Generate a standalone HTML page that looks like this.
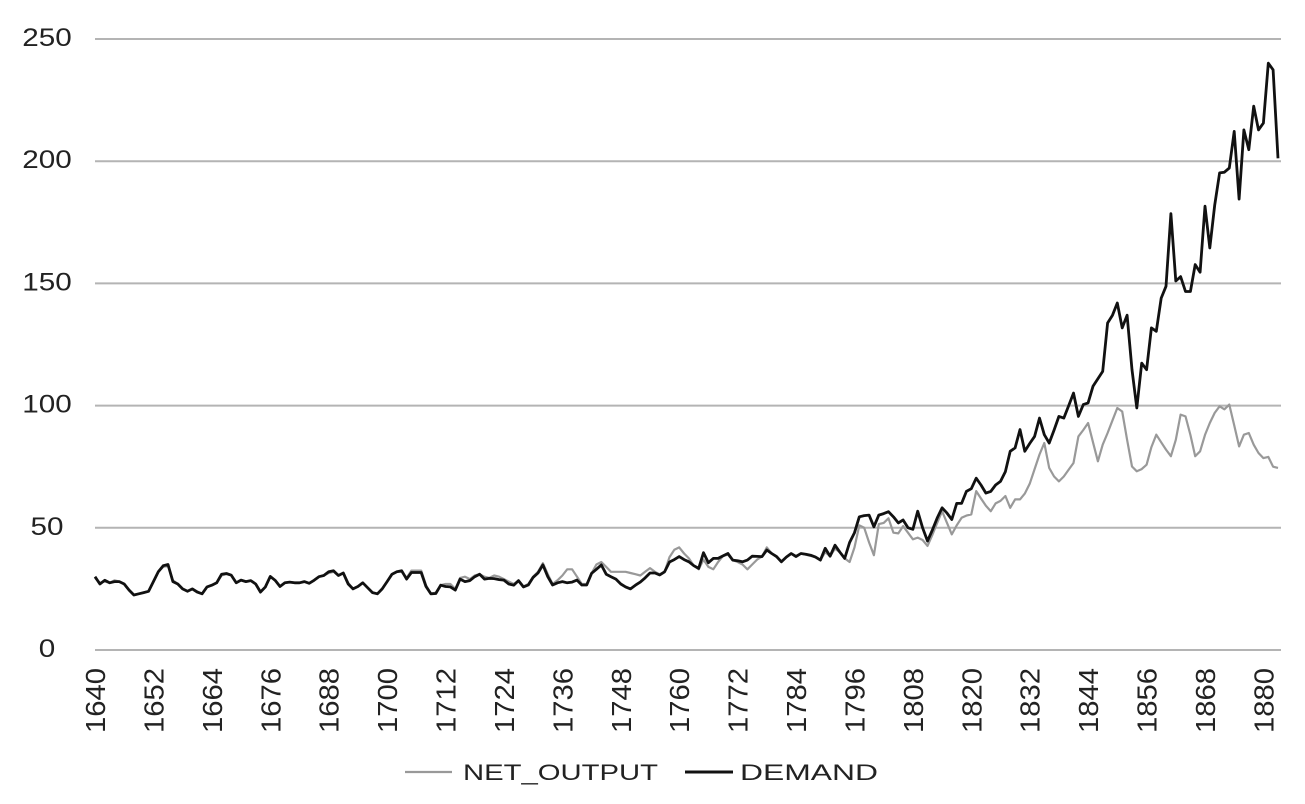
<!DOCTYPE html>
<html><head><meta charset="utf-8"><style>
body{margin:0;background:#fff;}
svg{display:block;font-family:"Liberation Sans",Arial,sans-serif;}
</style></head><body>
<svg id="chart" width="1305" height="804">
  <g>
    <line x1="405" x2="452" y1="772" y2="772" stroke="#999" stroke-width="2.2"/>
    <text x="463" y="780" font-size="22" fill="#222" textLength="195" lengthAdjust="spacingAndGlyphs">NET_OUTPUT</text>
    <line x1="685" x2="733" y1="772" y2="772" stroke="#111" stroke-width="3"/>
    <text x="740" y="780" font-size="22" fill="#222" textLength="138" lengthAdjust="spacingAndGlyphs">DEMAND</text>
  </g>
</svg>
<script>
const startYear = 1640;
const demandValues = [30,27,28.5,27.5,28,28,27,24.5,22.5,23,23.5,24,28,32,34.5,35,28,27,25,24,25,23.7,23,25.8,26.5,27.5,31,31.3,30.6,27.5,28.6,28,28.4,27,23.7,25.8,30.1,28.5,26,27.5,27.8,27.5,27.5,28,27.3,28.5,30,30.5,32,32.4,30.5,31.5,27,25,26,27.5,25.5,23.5,23,25,28,31,32,32.4,29,31.7,31.7,31.7,26,23,23.1,26.5,26,25.8,24.5,29,28,28.4,30,31,29,29.3,29.2,28.8,28.6,27,26.5,28.4,25.8,26.6,29.7,31.5,34.8,30,26.6,27.5,28,27.5,27.8,28.6,26.6,26.6,31.4,33,34.8,31,30,29,27,25.8,25,26.5,27.8,29.5,31.5,31.5,30.7,32,36,37,38.2,37,36.1,34.5,33.4,39.8,35.7,37.5,37.5,38.5,39.5,36.8,36.5,36.1,36.8,38.4,38.3,38.2,40.9,39.5,38.2,36.1,38,39.5,38.2,39.5,39.2,38.8,38,36.8,41.6,38.4,42.9,40,37.5,44,48,54.5,55,55.2,50.4,55.2,55.8,56.6,54.5,52,53.2,50,49.4,56.8,50,44.6,49,54,58.2,56,53.4,60,60,64.9,66,70.3,67.5,64.2,64.9,67.5,69,73,81.3,82.7,90.2,81.3,84.5,87.4,94.9,88.1,84.7,90,95.6,94.9,100,105.1,95.6,100.4,101.1,107.9,111,114,133.8,137,142,131.8,137,114.7,99,117.4,114.7,131.8,130.4,144,148.8,178.5,151,152.8,146.7,146.7,157.7,154.6,181.6,164.5,182,195.2,195.5,197.2,212.2,184.5,212.8,204.7,222.5,212.8,215.6,240.1,237.4,201.2];
const netOutputValues = [29.5,27.5,28,27.5,28.5,28,27,24.5,22.5,23,23.5,24,28,32,34,34.5,28.5,27,25,24,25,24,23,25.8,26.5,27.5,30.5,31,30.6,27.5,28.6,28,28.4,27,24,25.8,30,28.5,26,27.5,27.8,27.5,27.5,28,27.3,28.5,30,30.5,31.5,32,30.5,31.5,27.5,25,26,27.5,25.5,23.5,23,25,28,31,32,32,29.5,32.5,32.5,32.5,26.5,23,23.5,26.5,27,27,25,29.5,30,29,30.5,31,30,29.5,30.5,30,29,28,27,28.4,26,27,30,32,35.5,31,27,28.5,30.5,33,33,30,27,27,31.4,35,36,34,32,32,32,32,31.5,31,30.5,32,33.5,32,31,32,38,41,42,39.5,37.5,34.5,33,37,34,33,36,38.5,39,36.8,36,35,33,35,37,38.2,42,39.5,38,36,38,39.5,38.5,39.5,39,38.5,38,36.8,40,38.4,41.5,40,37.5,36,42,51,50,44,38.8,51.5,52,53.9,48,47.7,50.7,48,45.3,46,45,42.6,47,52,56.8,52,47.3,51,54.1,55,55.5,65,62,59,56.8,60,61,63,58.2,61.6,61.6,64,68,74,80,84.7,74.5,71,69,71,73.8,76.5,87.4,90,92.9,85,77.2,84,88.8,94,99,97.6,86,75.1,73.1,74,75.8,83,88.1,85,82,79.3,86,96.3,95.6,88,79.3,81.3,88,92.9,97,99.7,98.5,100.4,92,83.3,88.1,88.8,84,80.6,78.5,79,75,74.5];
const yTicks = [0,50,100,150,200,250];
const xTickYears = [1640,1652,1664,1676,1688,1700,1712,1724,1736,1748,1760,1772,1784,1796,1808,1820,1832,1844,1856,1868,1880];

const NS = "http://www.w3.org/2000/svg";
const svg = document.getElementById('chart');
const X0 = 95, X1 = 1278, Y0 = 650, Y1 = 39;
const lastYear = startYear + demandValues.length - 1;
function xScale(year){ return X0 + (year - startYear) * (X1 - X0) / (lastYear - startYear); }
function yScale(v){ return Y0 - v * (Y0 - Y1) / 250; }
function mk(tag, attrs){ const e = document.createElementNS(NS, tag); for (const k in attrs) e.setAttribute(k, attrs[k]); svg.appendChild(e); return e; }

yTicks.forEach(t => {
  const g = mk('line', {x1:95, x2:1281, y1:yScale(t), y2:yScale(t), stroke:'#b4b4b4', 'stroke-width':2});
  
  
  const s = String(t);
  const tx = mk('text', {x:47, y:yScale(t) + 7, 'text-anchor':'middle', 'font-size':25, fill:'#222', textLength:s.length * 16.5, lengthAdjust:'spacingAndGlyphs'});
  tx.textContent = s;
  
  
});

xTickYears.forEach(yr => {
  const x = xScale(yr);
  const tx = mk('text', {x:0, y:0, 'text-anchor':'end', 'font-size':28, fill:'#222', textLength:65, lengthAdjust:'spacingAndGlyphs', transform:'translate(' + (x + 10) + ',668) rotate(-90)'});
  tx.textContent = yr;
  
  
});

function pathFor(vals){ return vals.map((v,i) => (i ? 'L' : 'M') + xScale(startYear + i).toFixed(1) + ',' + yScale(v).toFixed(1)).join(''); }
const pNet = mk('path', {d:pathFor(netOutputValues), fill:'none', stroke:'#999', 'stroke-width':2.2, 'stroke-linejoin':'round'});


const pDem = mk('path', {d:pathFor(demandValues), fill:'none', stroke:'#111', 'stroke-width':2.8, 'stroke-linejoin':'round'});


</script>
</body></html>
